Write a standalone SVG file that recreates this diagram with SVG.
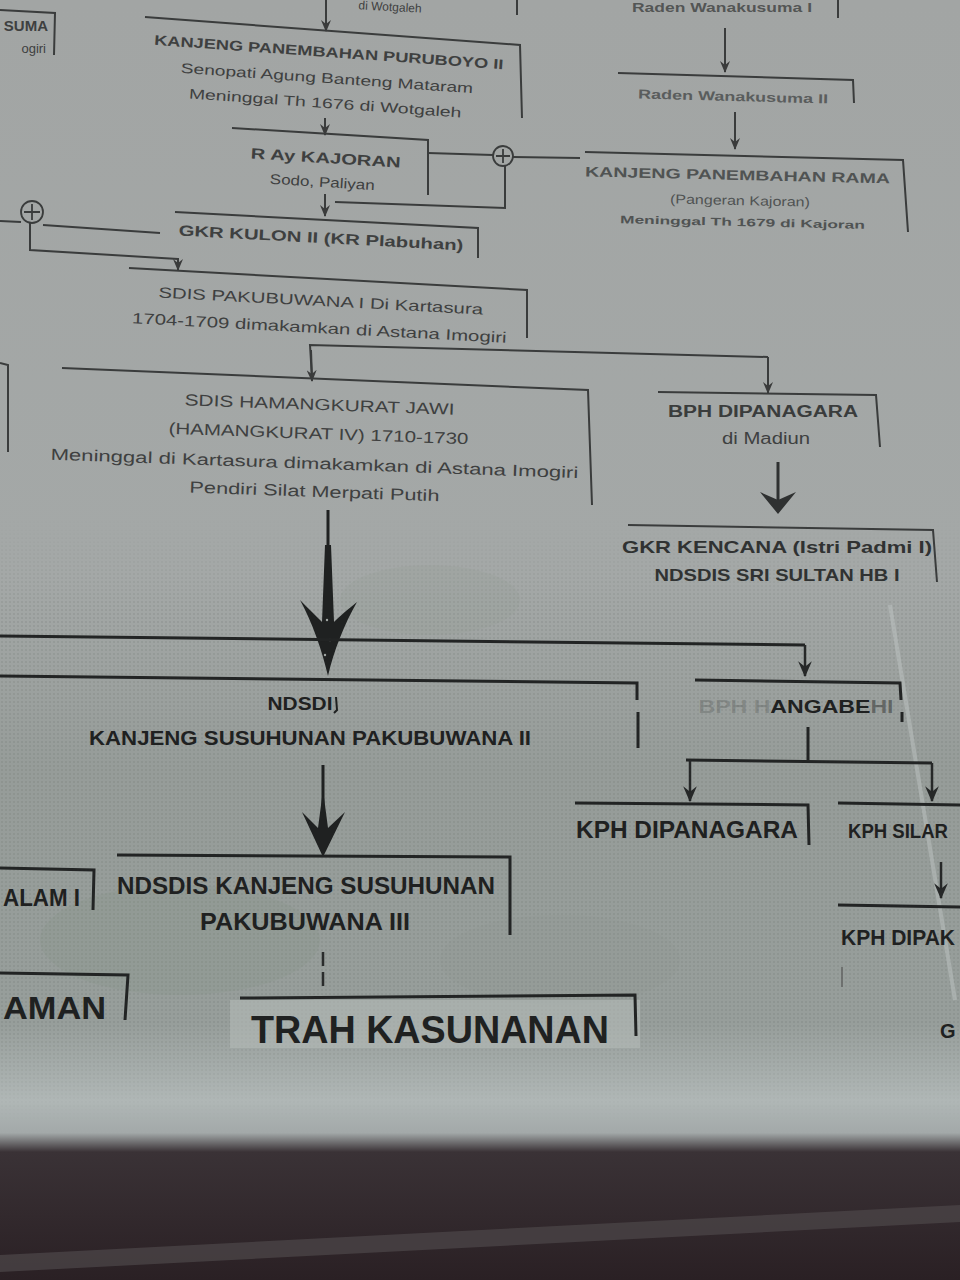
<svg xmlns="http://www.w3.org/2000/svg" width="960" height="1280" viewBox="0 0 960 1280">
<defs>
<linearGradient id="bg" x1="0" y1="0" x2="0" y2="1">
<stop offset="0" stop-color="#a2a5a4"/>
<stop offset="0.45" stop-color="#a4a8a7"/>
<stop offset="0.6" stop-color="#969c99"/>
<stop offset="0.8" stop-color="#979e9b"/>
<stop offset="0.86" stop-color="#b0b7b6"/>
<stop offset="0.885" stop-color="#a3a9a9"/>
<stop offset="0.9" stop-color="#3a3236"/>
<stop offset="1" stop-color="#2a2024"/>
</linearGradient>
<linearGradient id="fade" x1="0" y1="0" x2="0" y2="1">
<stop offset="0" stop-color="#fff" stop-opacity="0"/>
<stop offset="0.15" stop-color="#fff" stop-opacity="1"/>
<stop offset="0.85" stop-color="#fff" stop-opacity="1"/>
<stop offset="1" stop-color="#fff" stop-opacity="0"/>
</linearGradient>
<mask id="dm" maskUnits="userSpaceOnUse" x="0" y="520" width="960" height="600">
<rect x="0" y="520" width="960" height="600" fill="url(#fade)"/>
</mask>
<pattern id="dots" width="4" height="4" patternUnits="userSpaceOnUse">
<circle cx="2" cy="2" r="0.8" fill="#5d6562" fill-opacity="0.35"/>
</pattern>
<marker id="ah" viewBox="0 0 12 10" refX="11" refY="5" markerWidth="12" markerHeight="10" markerUnits="userSpaceOnUse" orient="auto">
<path d="M0,0 L12,5 L0,10 L4,5 Z" fill="#3a3b3b"/>
</marker>
<marker id="ahd" viewBox="0 0 14 12" refX="13" refY="6" markerWidth="16" markerHeight="14" markerUnits="userSpaceOnUse" orient="auto">
<path d="M0,0 L14,6 L0,12 L5,6 Z" fill="#262828"/>
</marker>
<style>
.t{font-family:"Liberation Sans",Arial,sans-serif;text-anchor:middle;fill:#3e4040;font-weight:bold}
.tn{font-weight:normal}
.d{fill:#1f2121;font-weight:bold}
.ln{stroke:#3a3c3c;stroke-width:2;fill:none}
.lk{stroke:#222424;stroke-width:3;fill:none}
.ar{stroke:#3a3c3c;stroke-width:2;fill:none;marker-end:url(#ah)}
.ark{stroke:#262828;stroke-width:2.5;fill:none;marker-end:url(#ahd)}
.pl{fill:none;stroke:#3a3c3c;stroke-width:1.8}
</style>
</defs>
<rect width="960" height="1280" fill="url(#bg)"/>
<rect x="0" y="520" width="960" height="600" fill="url(#dots)" mask="url(#dm)"/>
<ellipse cx="430" cy="600" rx="90" ry="35" fill="#8e9a92" opacity="0.18"/>
<ellipse cx="180" cy="940" rx="140" ry="55" fill="#7f8f80" opacity="0.18"/>
<ellipse cx="560" cy="960" rx="120" ry="45" fill="#8a968e" opacity="0.15"/>
<path d="M0,1255 L960,1205 L960,1222 L0,1272 Z" fill="#4a4346" opacity="0.8"/>
<line x1="890" y1="605" x2="955" y2="1000" stroke="#c3c9c8" stroke-width="4" opacity="0.45"/>

<g id="connectors">
<line class="ln" x1="517" y1="0" x2="517" y2="15"/>
<line class="ar" x1="326" y1="0" x2="326" y2="31"/>
<line class="ar" x1="325" y1="118" x2="325" y2="135"/>
<line class="ln" x1="428" y1="153" x2="493" y2="155"/>
<line class="ln" x1="513" y1="157" x2="580" y2="158"/>
<polyline class="ln" points="505,166 505,208 335,202"/>
<line class="ar" x1="325" y1="194" x2="325" y2="216"/>
<line class="ln" x1="0" y1="221" x2="21" y2="222"/>
<line class="ln" x1="43" y1="225" x2="160" y2="233"/>
<polyline class="ln" points="30,223 30,250 178,259"/>
<line class="ar" x1="178" y1="258" x2="178" y2="270"/>
<polyline class="ln" points="312,378 310,345 768,357"/>
<line class="ar" x1="311" y1="350" x2="312" y2="381"/>
<line class="ar" x1="768" y1="357" x2="768" y2="393"/>
<line class="ar" x1="725" y1="28" x2="725" y2="72"/>
<line class="ar" x1="735" y1="112" x2="735" y2="149"/>
<line x1="778" y1="462" x2="778" y2="510" stroke="#2f3131" stroke-width="3"/>
<path d="M778,514 L760,492 L778,500 L796,492 Z" fill="#2f3131"/>
<line x1="328" y1="510" x2="328" y2="570" stroke="#1f2121" stroke-width="3"/>
<path d="M328,676 C322,650 312,622 300,600 C311,611 317,617 322,622 L325,545 L331,545 L334,622 C340,616 347,610 357,602 C344,625 334,650 328,676 Z" fill="#1f2121"/>
<circle cx="327" cy="620" r="1.2" fill="#a0a6a3"/><circle cx="330" cy="640" r="1.2" fill="#a0a6a3"/><circle cx="325" cy="655" r="1.2" fill="#a0a6a3"/>
<line class="lk" x1="0" y1="636" x2="805" y2="645"/>
<line class="ark" x1="805" y1="645" x2="805" y2="676"/>
<line class="lk" x1="808" y1="727" x2="808" y2="760"/>
<line class="lk" x1="686" y1="760" x2="932" y2="763"/>
<line class="ark" x1="690" y1="760" x2="690" y2="801"/>
<line class="ark" x1="932" y1="763" x2="932" y2="801"/>
<line class="ark" x1="941" y1="862" x2="941" y2="898"/>
<line x1="323" y1="765" x2="323" y2="830" stroke="#1f2121" stroke-width="3"/>
<path d="M323,857 L302,812 L318,828 L323,790 L328,828 L345,812 Z" fill="#1f2121"/>
<line x1="323" y1="952" x2="323" y2="990" stroke="#2a2c2c" stroke-width="2.5" stroke-dasharray="14 6"/>
<line x1="842" y1="967" x2="842" y2="987" stroke="#555" stroke-width="2" opacity="0.6"/>
</g>

<g id="n-topleft">
<polyline class="ln" points="0,10 55,13 54,55"/>
<text class="t" x="48" y="31" font-size="15" style="text-anchor:end">SUMA</text>
<text class="t tn" x="46" y="53" font-size="13" style="text-anchor:end">ogiri</text>
</g>

<g id="n-top">
<text class="t tn" x="390" y="11" font-size="12" transform="rotate(3 390 8)">di Wotgaleh</text>
</g>

<g id="n-puruboyo">
<polyline class="ln" points="145,17 520,45 522,118"/>
<g transform="rotate(4 327 78)">
<text class="t" x="327" y="57" font-size="14" textLength="350" lengthAdjust="spacingAndGlyphs">KANJENG PANEMBAHAN PURUBOYO II</text>
<text class="t tn" x="327" y="83" font-size="14" textLength="293" lengthAdjust="spacingAndGlyphs">Senopati Agung Banteng Mataram</text>
<text class="t tn" x="327" y="108" font-size="14" textLength="273" lengthAdjust="spacingAndGlyphs">Meninggal Th 1676 di Wotgaleh</text>
</g>
</g>

<g id="n-wanakusuma1">
<line class="ln" x1="838" y1="0" x2="838" y2="18"/>
<text class="t" x="722" y="12" font-size="12" fill-opacity="0.8" textLength="180" lengthAdjust="spacingAndGlyphs">Raden Wanakusuma I</text>
</g>

<g id="n-wanakusuma2">
<polyline class="ln" points="618,73 853,80 854,103"/>
<text class="t" x="733" y="101" font-size="13" style="fill:#5a5d5d" textLength="190" lengthAdjust="spacingAndGlyphs" transform="rotate(1.5 733 101)">Raden Wanakusuma II</text>
</g>

<g id="n-rama">
<polyline class="ln" points="585,152 903,160 908,232"/>
<g transform="rotate(1.3 740 200)">
<text class="t" x="737" y="180" font-size="14" style="fill:#505353" textLength="305" lengthAdjust="spacingAndGlyphs">KANJENG PANEMBAHAN RAMA</text>
<text class="t tn" x="740" y="205" font-size="13" style="fill:#505353" textLength="140" lengthAdjust="spacingAndGlyphs">(Pangeran Kajoran)</text>
<text class="t" x="743" y="226" font-size="11" style="fill:#505353" textLength="245" lengthAdjust="spacingAndGlyphs">Meninggal Th 1679 di Kajoran</text>
</g>
</g>

<g id="n-plus1">
<circle cx="503" cy="156" r="10" class="pl"/>
<path d="M503,149 V163 M496,156 H510" class="pl"/>
</g>

<g id="n-kajoran">
<polyline class="ln" points="232,128 428,140 428,195"/>
<g transform="rotate(3.5 325 170)">
<text class="t" x="325" y="163" font-size="15" textLength="150" lengthAdjust="spacingAndGlyphs">R Ay KAJORAN</text>
<text class="t tn" x="323" y="187" font-size="14" textLength="105" lengthAdjust="spacingAndGlyphs">Sodo, Paliyan</text>
</g>
</g>

<g id="n-plus2">
<circle cx="32" cy="212" r="11" class="pl"/>
<path d="M32,204 V220 M24,212 H40" class="pl"/>
</g>

<g id="n-kulon">
<polyline class="ln" points="175,212 478,228 478,258"/>
<text class="t" x="321" y="243" font-size="15" textLength="285" lengthAdjust="spacingAndGlyphs" transform="rotate(3 321 238)">GKR KULON II (KR Plabuhan)</text>
</g>

<g id="n-pakubuwana1">
<polyline class="ln" points="129,268 527,290 527,338"/>
<g transform="rotate(3 320 315)">
<text class="t tn" x="320" y="306" font-size="15" textLength="325" lengthAdjust="spacingAndGlyphs">SDIS PAKUBUWANA I Di Kartasura</text>
<text class="t tn" x="320" y="333" font-size="15" textLength="375" lengthAdjust="spacingAndGlyphs">1704-1709 dimakamkan di Astana Imogiri</text>
</g>
</g>

<g id="n-leftbox">
<polyline class="ln" points="0,363 8,365 8,452"/>
</g>

<g id="n-hamangkurat">
<polyline class="ln" points="62,368 588,390 592,505"/>
<g transform="rotate(2 318 448)">
<text class="t tn" x="318" y="410" font-size="16" textLength="270" lengthAdjust="spacingAndGlyphs">SDIS HAMANGKURAT JAWI</text>
<text class="t tn" x="318" y="439" font-size="16" textLength="300" lengthAdjust="spacingAndGlyphs">(HAMANGKURAT IV) 1710-1730</text>
<text class="t tn" x="315" y="469" font-size="16" textLength="528" lengthAdjust="spacingAndGlyphs">Meninggal di Kartasura dimakamkan di Astana Imogiri</text>
<text class="t tn" x="316" y="497" font-size="16" textLength="250" lengthAdjust="spacingAndGlyphs">Pendiri Silat Merpati Putih</text>
</g>
</g>

<g id="n-bphdipanagara">
<polyline class="ln" points="658,392 876,395 880,447"/>
<text class="t" x="763" y="417" font-size="16" textLength="190" lengthAdjust="spacingAndGlyphs" style="fill:#3a3c3c">BPH DIPANAGARA</text>
<text class="t tn" x="766" y="444" font-size="16" textLength="88" lengthAdjust="spacingAndGlyphs">di Madiun</text>
</g>

<g id="n-kencana">
<polyline class="ln" points="628,525 933,530 937,582"/>
<text class="t" x="777" y="553" font-size="17" textLength="310" lengthAdjust="spacingAndGlyphs" style="fill:#303232">GKR KENCANA (Istri Padmi I)</text>
<text class="t" x="777" y="581" font-size="17" textLength="245" lengthAdjust="spacingAndGlyphs" style="fill:#303232">NDSDIS SRI SULTAN HB I</text>
</g>

<g id="n-pakubuwana2">
<polyline class="lk" points="0,676 637,683 637,700"/>
<line class="lk" x1="638" y1="712" x2="638" y2="748"/>
<text class="t d" x="300" y="710" font-size="18" textLength="65" lengthAdjust="spacingAndGlyphs">NDSDI</text>
<path d="M336,697 L337,710 L334,713" stroke="#1f2121" stroke-width="2" fill="none"/>
<text class="t d" x="310" y="745" font-size="21" textLength="442" lengthAdjust="spacingAndGlyphs">KANJENG SUSUHUNAN PAKUBUWANA  II</text>
</g>

<g id="n-hangabehi">
<polyline class="lk" points="695,680 900,683 901,700"/>
<line class="lk" x1="902" y1="712" x2="902" y2="722"/>
<text class="t d" x="796" y="713" font-size="19" textLength="195" lengthAdjust="spacingAndGlyphs"><tspan fill-opacity="0.2">BPH H</tspan>ANGABE<tspan fill-opacity="0.45">HI</tspan></text>
</g>

<g id="n-kphdipanagara">
<polyline class="lk" points="575,803 808,805 809,845"/>
<text class="t d" x="687" y="838" font-size="23" textLength="222" lengthAdjust="spacingAndGlyphs">KPH DIPANAGARA</text>
</g>

<g id="n-kphsila">
<line class="lk" x1="838" y1="803" x2="960" y2="805"/>
<text class="t d" x="848" y="838" font-size="21" style="text-anchor:start" textLength="100" lengthAdjust="spacingAndGlyphs">KPH SILAR</text>
</g>

<g id="n-kphdipak">
<line class="lk" x1="838" y1="905" x2="960" y2="907"/>
<text class="t d" x="841" y="945" font-size="22" style="text-anchor:start" textLength="114" lengthAdjust="spacingAndGlyphs">KPH DIPAK</text>
</g>

<g id="n-g">
<text class="t d" x="940" y="1038" font-size="20" style="text-anchor:start">G</text>
</g>

<g id="n-alam">
<polyline class="lk" points="0,868 94,870 93,910"/>
<text class="t d" x="80" y="906" font-size="23" style="text-anchor:end" textLength="77" lengthAdjust="spacingAndGlyphs">ALAM I</text>
</g>

<g id="n-pakubuwana3">
<polyline class="lk" points="117,855 510,857 510,935"/>
<text class="t d" x="306" y="894" font-size="24" textLength="378" lengthAdjust="spacingAndGlyphs">NDSDIS KANJENG SUSUHUNAN</text>
<text class="t d" x="305" y="930" font-size="24" textLength="210" lengthAdjust="spacingAndGlyphs">PAKUBUWANA III</text>
</g>

<g id="n-aman">
<polyline class="lk" points="0,973 128,975 125,1020"/>
<text class="t d" x="106" y="1019" font-size="32" style="text-anchor:end" textLength="103" lengthAdjust="spacingAndGlyphs">AMAN</text>
</g>

<g id="n-trah">
<rect x="230" y="1000" width="410" height="48" fill="#b4bab8" opacity="0.6"/>
<polyline class="lk" points="240,998 635,995 636,1036"/>
<text class="t d" x="430" y="1043" font-size="38" textLength="358" lengthAdjust="spacingAndGlyphs">TRAH KASUNANAN</text>
</g>
</svg>
